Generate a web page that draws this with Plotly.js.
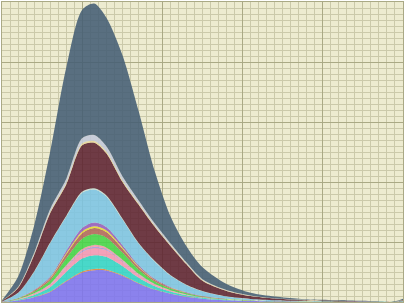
<!DOCTYPE html>
<html>
<head>
<meta charset="utf-8">
<script src="https://cdn.plot.ly/plotly-3.0.1.min.js"></script>
<style>html,body{margin:0;padding:0;background:#fff;}#chart{width:405px;height:304px;}</style>
</head>
<body>
<div id="chart"></div>
<script>
// x positions (data units)
const xVals = [0,0.2,0.4,0.6,0.8,1.0,1.15,1.3,1.5,1.7,1.9,2.1,2.3,2.5,2.8,3.1,3.4,3.7,4.0,4.3,4.6,4.9,5.0];

// layer thicknesses, bottom to top
const sPurple = [0.003,0.026,0.08,0.168,0.34,0.49,0.53,0.525,0.437,0.31,0.207,0.138,0.088,0.055,0.029,0.016,0.009,0.006,0.004,0.003,0.002,0.002,0.004];
const sOrange = [0,0.001,0.003,0.006,0.013,0.019,0.02,0.018,0.013,0.008,0.005,0.003,0.002,0.001,0.001,0,0,0,0,0,0,0,0];
const sTurq   = [0.001,0.012,0.035,0.073,0.148,0.215,0.23,0.21,0.149,0.09,0.053,0.032,0.021,0.013,0.007,0.004,0.002,0.0015,0.001,0.0006,0.0006,0.0003,0.001];
const sPink   = [0.0006,0.006,0.018,0.038,0.077,0.111,0.12,0.109,0.077,0.047,0.027,0.017,0.011,0.007,0.004,0.002,0.001,0.0008,0.0005,0.0003,0.0003,0.0002,0.0006];
const sLilac  = [0,0.001,0.003,0.006,0.013,0.019,0.02,0.018,0.013,0.008,0.005,0.003,0.002,0.001,0.001,0,0,0,0,0,0,0,0];
const sPink2  = [0.0002,0.0016,0.005,0.01,0.02,0.03,0.032,0.029,0.021,0.012,0.007,0.0045,0.003,0.002,0.001,0.0005,0.0003,0.0002,0.0001,0.0001,0.0001,0.0001,0.0002];
const sGreen  = [0.001,0.009,0.028,0.058,0.117,0.17,0.18,0.167,0.118,0.071,0.042,0.026,0.017,0.01,0.0055,0.003,0.0018,0.0012,0.0007,0.0005,0.0005,0.0002,0.001];
const sBrown  = [0.0005,0.005,0.015,0.032,0.064,0.093,0.1,0.091,0.064,0.039,0.023,0.014,0.009,0.0056,0.003,0.0016,0.001,0.0006,0.0004,0.0003,0.0003,0.0001,0.0005];
const sYellow = [0.0002,0.0016,0.005,0.01,0.02,0.03,0.032,0.029,0.021,0.012,0.007,0.0045,0.003,0.002,0.001,0.0005,0.0003,0.0002,0.0001,0.0001,0.0001,0.0001,0.0002];
const sOrchid = [0.0003,0.003,0.009,0.019,0.038,0.055,0.06,0.054,0.038,0.023,0.014,0.008,0.005,0.0034,0.0018,0.001,0.0006,0.0004,0.0002,0.0002,0.0002,0.0001,0.0003];
const sSky    = [0.003,0.084,0.3,0.56,0.57,0.59,0.55,0.51,0.43,0.36,0.29,0.19,0.12,0.08,0.037,0.021,0.013,0.007,0.005,0.003,0.002,0.002,0.007];
const sHoney  = [0,0.003,0.008,0.012,0.015,0.02,0.02,0.02,0.015,0.012,0.01,0.008,0.006,0.004,0.003,0.002,0.001,0.001,0.001,0.0005,0.0005,0.0005,0.001];
const sMaroon = [0.01,0.082,0.272,0.488,0.52,0.77,0.76,0.70,0.61,0.638,0.572,0.487,0.342,0.171,0.091,0.048,0.027,0.016,0.010,0.0075,0.0045,0.0025,0.015];
const sWheat  = [0,0.005,0.01,0.02,0.025,0.03,0.03,0.03,0.025,0.02,0.018,0.015,0.012,0.01,0.006,0.004,0.003,0.002,0.001,0.001,0.001,0.001,0.002];
const sGray   = [0,0.01,0.03,0.05,0.07,0.09,0.1,0.09,0.07,0.05,0.04,0.03,0.02,0.015,0.01,0.006,0.004,0.003,0.002,0.001,0.001,0.001,0.002];
const sSlate  = [0.01,0.17,0.45,0.95,1.85,2.14,2.19,2.14,2.02,1.5,0.88,0.45,0.27,0.2,0.1,0.045,0.027,0.016,0.01,0.007,0.005,0.004,0.02];

const series = [
  {name:'purple', y:sPurple, c:'rgba(125,115,240,0.88)'},
  {name:'orange', y:sOrange, c:'rgba(222,132,62,0.88)'},
  {name:'turquoise', y:sTurq, c:'rgba(50,213,199,0.88)'},
  {name:'pink', y:sPink, c:'rgba(245,150,181,0.88)'},
  {name:'lilac', y:sLilac, c:'rgba(168,150,226,0.88)'},
  {name:'pink2', y:sPink2, c:'rgba(240,150,172,0.88)'},
  {name:'green', y:sGreen, c:'rgba(68,213,72,0.88)'},
  {name:'brown', y:sBrown, c:'rgba(177,104,90,0.88)'},
  {name:'yellow', y:sYellow, c:'rgba(231,222,44,0.88)'},
  {name:'orchid', y:sOrchid, c:'rgba(150,95,190,0.88)'},
  {name:'sky', y:sSky, c:'rgba(124,196,228,0.88)'},
  {name:'honeydew', y:sHoney, c:'rgba(195,222,217,0.88)'},
  {name:'maroon', y:sMaroon, c:'rgba(93,34,49,0.88)'},
  {name:'wheat', y:sWheat, c:'rgba(231,213,153,0.88)'},
  {name:'gray', y:sGray, c:'rgba(195,200,217,0.88)'},
  {name:'slate', y:sSlate, c:'rgba(68,93,116,0.88)'}
];

const traces = series.map(s => ({
  type:'scatter', mode:'lines', x:xVals, y:s.y, name:s.name,
  stackgroup:'one', fillcolor:s.c,
  line:{width:0, shape:'spline', smoothing:0.8, color:s.c},
  hoverinfo:'skip', showlegend:false
}));

const axisCommon = {
  range:[0,5], dtick:1, tick0:0, showgrid:true, gridcolor:'#AAA985', gridwidth:1,
  minor:{dtick:0.1, showgrid:true, gridcolor:'#CBC9AA', gridwidth:1},
  showticklabels:false, ticks:'', zeroline:false,
  showline:true, mirror:true, linecolor:'#AAA985', linewidth:1, fixedrange:true
};

const layout = {
  width:405, height:304,
  margin:{l:2, r:2, t:2, b:2, pad:0},
  paper_bgcolor:'#ffffff', plot_bgcolor:'#EDEBD0',
  showlegend:false,
  xaxis:Object.assign({}, axisCommon),
  yaxis:Object.assign({}, axisCommon)
};

Plotly.newPlot('chart', traces, layout, {staticPlot:true, displayModeBar:false});
</script>
</body>
</html>
